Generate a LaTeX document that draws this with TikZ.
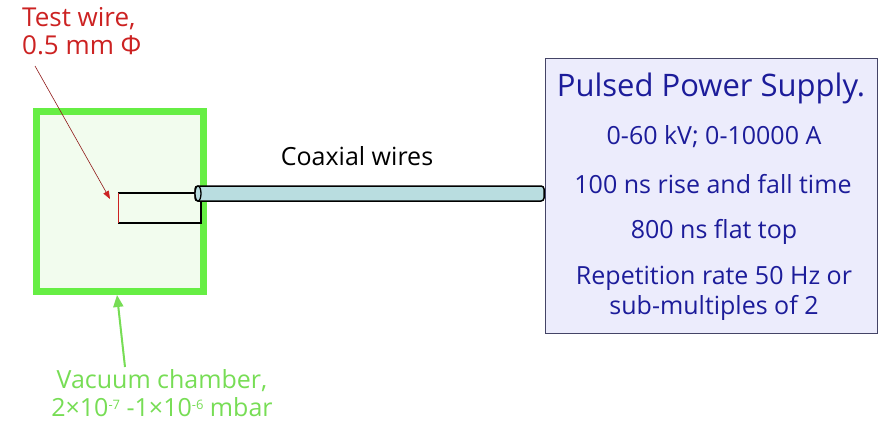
\documentclass[tikz,border=0pt]{standalone}
\usepackage{fontspec}
\setmainfont{Open Sans}
\usetikzlibrary{arrows.meta}
\definecolor{chgreen}{HTML}{66EE44}
\definecolor{chfill}{HTML}{F2FCEE}
\definecolor{txtgreen}{HTML}{77DD55}
\definecolor{wired}{HTML}{CC2222}
\definecolor{coaxfill}{HTML}{B9DDE0}
\definecolor{psfill}{HTML}{ECECFC}
\definecolor{psdraw}{HTML}{444466}
\definecolor{navy}{HTML}{1C1C9A}
\newcommand{\supx}[1]{\raisebox{7pt}{\fontsize{13}{13}\selectfont #1}}
\tikzset{
  pstext/.style={text=navy, font=\fontsize{25}{28}\selectfont, anchor=center, inner sep=0pt},
  lbl/.style={align=left, inner sep=0pt}
}
\begin{document}
\begin{tikzpicture}[x=1pt,y=-1pt]
\useasboundingbox (0,0) rectangle (880,428);
% vacuum chamber
\draw[chgreen, line width=7pt, fill=chfill] (36,111) rectangle (203,291);
\coordinate (chbot) at (117,295);
% test wire holder
\draw[black, line width=1.6pt] (118,193) -- (201,193) -- (201,223) -- (118,223);
\draw[wired, line width=1pt] (118,193) -- (118,223);
\coordinate (wiretip) at (110,199);
% coax
\draw[black, line width=1.5pt, fill=coaxfill, rounded corners=3pt] (195,186) rectangle (544,201);
\draw[black, line width=1.3pt, fill=coaxfill] (198,193.5) ellipse (3pt and 7.5pt);
% power supply
\node[draw=psdraw, fill=psfill, line width=1pt, minimum width=332pt, minimum height=275pt, anchor=north west, inner sep=0pt] (ps) at (545,58) {};
\node[pstext, font=\fontsize{31}{34}\selectfont] (t1) at (711,88) {Pulsed Power Supply.};
\node[pstext] (t2) at (714,137) {0-60 kV; 0-10000 A};
\node[pstext] (t3) at (713,184) {100 ns rise and fall time};
\node[pstext] (t4) at (714,232) {800 ns flat top};
\node[pstext] (t5) at (714,278) {Repetition rate 50 Hz or};
\node[pstext] (t6) at (714,308) {sub-multiples of 2};
% labels
\node[font=\fontsize{25}{28}\selectfont, inner sep=0pt] (coax) at (357,156) {Coaxial wires};
\node[lbl, text=wired, anchor=north west, font=\fontsize{26}{28}\selectfont] (tw) at (22,7) {Test wire,\\0.5 mm Φ};
\node[lbl, text=txtgreen, anchor=north, align=center, font=\fontsize{25}{27}\selectfont] (vc) at (162,369) {Vacuum chamber,\\[1pt]2×10\supx{-7} -1×10\supx{-6} mbar};
% arrows
\coordinate (twtail) at (35,66);
\draw[wired!70!black, line width=0.6pt, -{Triangle[length=8pt,width=6pt,fill=wired,color=wired]}] (twtail) -- (wiretip);
\coordinate (vctail) at (125,367);
\draw[txtgreen, line width=2pt, -{Triangle[length=12pt,width=10pt]}] (vctail) -- (chbot);
\end{tikzpicture}
\end{document}
